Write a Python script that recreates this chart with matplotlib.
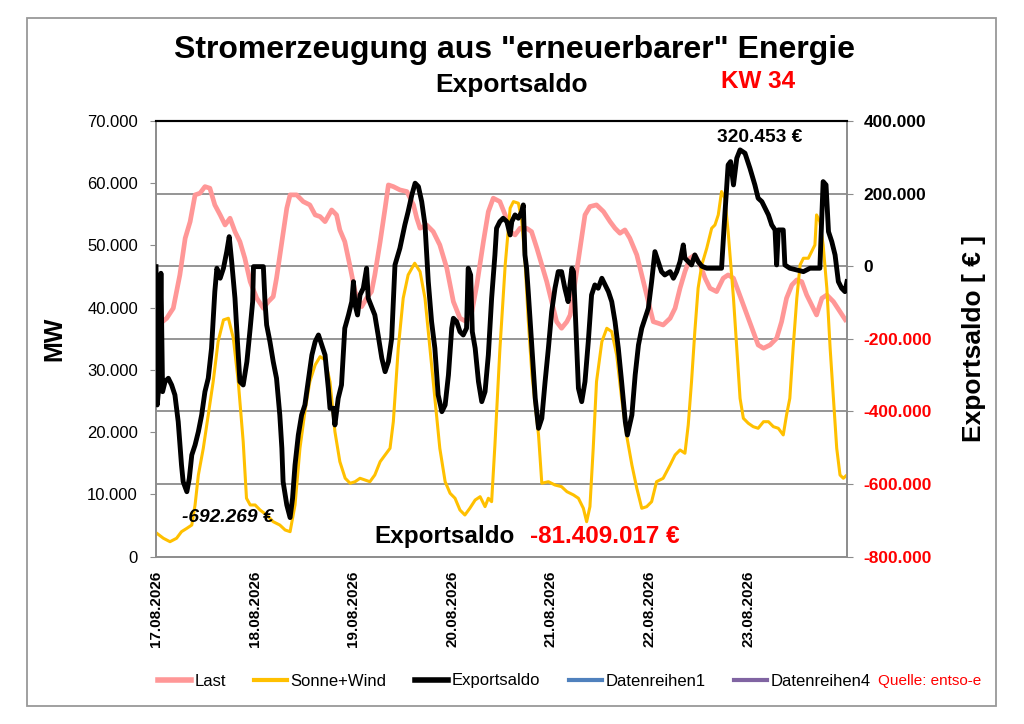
import matplotlib
matplotlib.use('Agg')
from matplotlib import pyplot as plt
from matplotlib.lines import Line2D
from matplotlib.patches import Rectangle
from matplotlib.ticker import FuncFormatter

plt.rcParams['font.family'] = ['Liberation Sans', 'DejaVu Sans']

##############################################
# Daten (KW 34, Stunden ab 17.08.2026 00:00)
##############################################
days = ['17.08.2026', '18.08.2026', '19.08.2026', '20.08.2026',
        '21.08.2026', '22.08.2026', '23.08.2026']

last_h = [0.6, 2.6, 4.2, 5.8, 7.1, 8.3, 9.5, 10.7, 11.9, 13.1,
          14.3, 15.6, 16.8, 18.0, 19.2, 20.4, 21.6, 22.9, 24.5, 26.1,
          27.3, 28.5, 29.3, 30.6, 31.8, 32.6, 34.2, 35.8, 37.4, 38.7,
          39.9, 41.1, 42.7, 43.9, 44.7, 45.9, 47.1, 48.4, 50.0, 51.2,
          52.4, 53.2, 54.5, 55.7, 56.5, 57.7, 59.3, 61.0, 62.6, 63.4,
          64.2, 65.8, 67.4, 69.0, 70.7, 72.3, 73.9, 75.5, 76.8, 78.0,
          79.6, 80.8, 82.0, 83.6, 84.9, 86.1, 87.3, 88.5, 90.1, 91.3,
          92.6, 93.8, 95.0, 96.2, 97.4, 98.6, 99.9, 100.7, 101.9, 103.1,
          104.3, 105.5, 107.1, 108.8, 110.4, 111.6, 112.8, 114.0, 115.2, 116.9,
          118.5, 119.7, 120.9, 122.1, 123.3, 125.0, 126.2, 127.4, 128.6, 129.8,
          131.0, 132.3, 133.5, 134.7, 136.3, 137.9, 139.1, 140.4, 141.6, 142.8,
          144.0, 145.2, 146.4, 147.7, 149.3, 150.9, 152.1, 153.3, 154.6, 155.8,
          157.0, 158.2, 159.4, 160.6, 161.9, 163.1, 164.7, 166.3, 167.9]
last_mw = [37230, 38310, 39920, 45270, 51170, 53830, 58130, 58400, 59460, 59200,
           56520, 54910, 53300, 54380, 52230, 50620, 47950, 44190, 41530, 39920,
           40980, 41780, 44740, 50620, 55990, 58130, 58130, 57050, 56520, 54910,
           54640, 53830, 55710, 54910, 52500, 50620, 46880, 42590, 40180, 41530,
           42590, 45270, 50620, 55990, 59730, 59460, 58930, 58660, 56520, 54380,
           52770, 53300, 52230, 50090, 46350, 40980, 38310, 37760, 39370, 43660,
           50620, 55440, 57600, 57050, 54910, 52230, 51700, 52770, 52770, 52230,
           49560, 46880, 44190, 40980, 37760, 36700, 37760, 38840, 44190, 49560,
           54910, 56250, 56520, 55440, 53830, 52770, 51970, 52500, 51170, 48480,
           44190, 40980, 37760, 37510, 37230, 38310, 39920, 43130, 45800, 47950,
           48480, 46880, 44740, 43130, 42590, 44740, 45270, 44740, 42590, 40450,
           38310, 36160, 34020, 33490, 34020, 35100, 37760, 41530, 43660, 44470,
           44190, 42050, 40450, 38840, 41530, 42050, 40980, 39370, 37760]

sw_h = [0.2, 1.8, 3.4, 5.0, 6.2, 7.5, 8.7, 9.5, 10.3, 11.5,
        12.7, 13.9, 15.1, 16.4, 17.6, 18.8, 20.0, 21.2, 22.0, 22.9,
        24.1, 25.3, 26.9, 28.5, 30.1, 31.4, 32.6, 33.8, 35.0, 36.2,
        37.4, 38.7, 39.9, 41.1, 42.3, 43.5, 44.7, 46.0, 47.2, 48.4,
        49.6, 50.8, 52.0, 53.2, 54.5, 55.7, 56.9, 57.7, 58.9, 60.1,
        61.3, 62.9, 64.2, 65.4, 66.6, 67.8, 69.0, 70.3, 71.5, 72.7,
        73.9, 75.1, 76.3, 77.6, 78.8, 80.0, 80.8, 81.6, 82.4, 83.6,
        84.9, 86.1, 86.9, 88.1, 88.9, 89.7, 90.5, 91.4, 93.0, 93.8,
        95.4, 97.0, 98.6, 99.9, 101.5, 102.7, 103.9, 104.7, 105.5, 106.3,
        107.1, 108.4, 109.6, 110.8, 112.0, 113.2, 114.4, 115.7, 116.9, 118.1,
        119.3, 120.5, 121.7, 123.3, 125.0, 126.2, 127.4, 128.6, 129.4, 130.2,
        131.0, 131.8, 132.7, 133.9, 135.1, 135.9, 136.7, 137.5, 138.3, 139.1,
        140.4, 141.2, 142.0, 142.8, 144.0, 145.2, 146.4, 147.7, 148.9, 150.1,
        151.3, 152.5, 153.3, 154.1, 154.9, 155.8, 156.6, 157.4, 158.6, 159.4,
        160.2, 160.6, 161.4, 162.2, 163.1, 163.9, 164.7, 165.5, 166.3, 167.1,
        168.0]
sw_mw = [3760, 2960, 2410, 2960, 4020, 4560, 5090, 8310, 13130, 17420,
         22770, 28120, 34550, 38040, 38310, 35100, 28120, 18480, 9390, 8310,
         8310, 7500, 6700, 5620, 5090, 4290, 4020, 8310, 17420, 23300,
         28120, 30810, 32140, 31610, 28120, 20090, 15270, 12600, 11800, 12050,
         12600, 12330, 12050, 13130, 15270, 16340, 17420, 21690, 33490, 41530,
         45270, 47150, 45800, 41530, 33490, 25450, 17420, 12050, 10190, 9390,
         7500, 6700, 7780, 9110, 9640, 8040, 9390, 8840, 17950, 33220,
         46880, 55990, 57050, 56790, 54110, 47680, 38040, 29200, 19560, 11800,
         12050, 11520, 11250, 10450, 9920, 9390, 7780, 5620, 8040, 17420,
         28120, 34550, 36700, 36160, 32410, 25450, 19560, 14740, 10990, 7780,
         8040, 8840, 12050, 12600, 14740, 16340, 17150, 16620, 21160, 28120,
         36160, 43130, 46880, 49560, 52770, 53300, 54910, 58660, 57600, 52230,
         41530, 33490, 25450, 22240, 21440, 20890, 20630, 21690, 21690, 20890,
         20630, 19560, 22770, 25450, 33490, 41530, 46880, 47950, 47950, 49010,
         50090, 54910, 53830, 50090, 43130, 33490, 25450, 17420, 13130, 12600,
         13130]

exp_h = [0.0, 0.3, 0.8, 1.2, 1.6, 2.2, 3.0, 3.8, 4.6, 5.4,
         6.2, 6.6, 7.5, 8.1, 8.7, 9.5, 10.3, 11.1, 11.9, 12.7,
         13.5, 14.3, 14.8, 15.6, 16.4, 17.2, 17.8, 18.4, 19.2, 19.8,
         20.4, 21.2, 22.1, 22.9, 23.5, 23.7, 26.1, 26.5, 26.9, 27.7,
         28.5, 29.3, 30.1, 30.6, 30.9, 31.8, 32.6, 33.2, 33.8, 34.6,
         35.4, 36.2, 37.0, 37.9, 38.7, 39.5, 40.3, 41.1, 41.9, 42.3,
         43.1, 43.5, 44.3, 45.1, 45.9, 46.8, 47.6, 48.0, 48.4, 49.0,
         49.6, 50.4, 51.2, 51.6, 52.4, 53.2, 54.0, 54.9, 55.7, 56.5,
         57.3, 58.1, 59.3, 60.5, 61.3, 62.2, 63.0, 63.8, 64.6, 65.4,
         66.2, 67.0, 67.8, 68.6, 69.5, 70.3, 71.1, 71.9, 72.3, 73.1,
         73.9, 74.7, 75.5, 75.9, 76.5, 76.9, 77.6, 78.4, 79.2, 80.0,
         80.8, 81.6, 82.4, 82.8, 83.6, 84.4, 85.3, 86.1, 86.5, 87.3,
         88.1, 88.9, 89.3, 89.7, 90.1, 90.5, 91.4, 92.2, 93.0, 93.8,
         94.6, 95.4, 96.2, 97.0, 97.8, 98.6, 99.4, 100.2, 101.1, 101.5,
         101.9, 102.3, 102.7, 103.5, 104.3, 105.1, 105.9, 106.7, 107.5, 108.4,
         109.2, 110.0, 110.8, 111.6, 112.4, 113.2, 114.1, 114.6, 115.7, 116.5,
         117.3, 118.1, 118.9, 119.7, 120.5, 121.3, 122.1, 122.9, 123.7, 125.0,
         125.8, 126.6, 127.4, 128.2, 128.6, 129.4, 130.2, 131.0, 131.8, 132.7,
         133.9, 135.5, 137.5, 138.3, 139.1, 139.7, 140.4, 141.2, 142.0, 143.2,
         144.4, 145.6, 146.4, 147.3, 148.1, 148.9, 149.7, 150.5, 150.9, 151.3,
         152.5, 152.9, 154.1, 155.8, 157.4, 159.0, 161.4, 162.2, 162.9, 163.5,
         164.3, 165.1, 165.9, 166.7, 167.5, 168.0]
exp_eur = [-1100, -382100, -317900, -19300, -345500, -317900, -308600, -327000, -354600, -428100,
           -547400, -593400, -621000, -584100, -519900, -492300, -455700, -409700, -345500, -308600,
           -225900, -70000, -5500, -33100, -5500, 40200, 81500, 12700, -88200, -207700,
           -317900, -327000, -262800, -170800, -97500, -1100, -1100, -97500, -161700, -207700,
           -262800, -308600, -409700, -501400, -593400, -657600, -692269, -639200, -547400, -464800,
           -409700, -382100, -317900, -244400, -207700, -189300, -216800, -244400, -336100, -391200,
           -391200, -437200, -363700, -327000, -170800, -134200, -97500, -42400, -106600, -134200,
           -79100, -60600, -5500, -88200, -111300, -134200, -189300, -253500, -290400, -262800,
           -198400, 3600, 49600, 113800, 150400, 196400, 228700, 219300, 178000, 113800,
           -42400, -152600, -225900, -354600, -400600, -382100, -299500, -170800, -143300, -152600,
           -180200, -189300, -170800, -5500, -24000, -180200, -225900, -317900, -373000, -345500,
           -244400, -88200, 31100, 104700, 122900, 132200, 122900, 86200, 122900, 141300,
           132200, 150400, 168900, 31100, -5500, -70000, -225900, -363700, -446300, -418800,
           -317900, -225900, -125100, -60600, -14900, -14900, -60600, -97500, -5500, -14900,
           -115700, -225900, -336100, -373000, -317900, -207700, -79100, -51500, -60600, -33100,
           -51500, -70000, -97500, -152600, -225900, -317900, -428100, -464800, -409700, -299500,
           -216800, -170800, -143300, -115700, -42400, 40200, 12700, -14900, -24000, -14900,
           -33100, -14900, 12700, 58700, 22000, 12700, 3600, 31100, 12700, 0,
           -5500, -5500, -5500, 141300, 279100, 288200, 224000, 297500, 320453, 311300,
           270000, 224000, 187300, 178000, 159800, 141300, 113800, 100000, 3600, 100000,
           100000, 3600, -5500, -10200, -14900, -5500, -5500, 233100, 224000, 95300,
           67800, 31100, -42400, -60600, -70000, -42400]

saldo_summe = '-81.409.017 €'
saldo_min = '-692.269 €'
saldo_max = '320.453 €'

def de_fmt(v, pos=None):
    return f'{v:,.0f}'.replace(',', '.')

##############################################
# Plot
##############################################
fig = plt.figure(figsize=(10.24, 7.24), dpi=100)
ax = fig.add_axes([156/1024, 1 - 556.7/724, 691/1024, 435.7/724])
ax2 = ax.twinx()

ax.set_xlim(0, 168)
ax.set_ylim(0, 70000)
ax2.set_ylim(-800000, 400000)

# Gitterlinien der rechten Achse, hinter den Kurven
r_ticks = list(range(-800000, 400001, 200000))
for r in r_ticks[1:-1]:
    ax.axhline((r + 800000) / 1200000 * 70000, color='#8c8c8c', lw=1.3, zorder=0)

ax.plot(last_h, last_mw, color='#FF9797', lw=3.4, zorder=2, solid_capstyle='butt')
ax.plot(sw_h, sw_mw, color='#FFC000', lw=2.2, zorder=3)
ax2.plot(exp_h, exp_eur, color='black', lw=3.5, zorder=4)

ax.set_yticks(range(0, 70001, 10000))
ax.yaxis.set_major_formatter(FuncFormatter(de_fmt))
ax.tick_params(axis='y', labelsize=12, length=4, color='#8c8c8c', pad=9)

ax.set_xticks([24 * i for i in range(len(days))])
ax.set_xticklabels(days, rotation=90, fontsize=11, fontweight='bold', va='top')
ax.tick_params(axis='x', length=0, pad=10)

ax2.set_yticks(r_ticks)
ax2.yaxis.set_major_formatter(FuncFormatter(de_fmt))
ax2.tick_params(axis='y', labelsize=12.5, length=4, color='#8c8c8c', pad=8)
for t, r in zip(ax2.get_yticklabels(), r_ticks):
    t.set_fontweight('bold')
    t.set_color('red' if r < 0 else 'black')

for a in (ax, ax2):
    for s in ('left', 'right', 'bottom'):
        a.spines[s].set_color('#8c8c8c')
        a.spines[s].set_linewidth(1.2)
    a.spines['top'].set_color('black')
    a.spines['top'].set_linewidth(1.5)

ax.set_ylabel('MW', fontsize=18, fontweight='bold')
ax.yaxis.set_label_coords(-0.130, 0.5)
ax2.set_ylabel('Exportsaldo [ € ]', fontsize=19, fontweight='bold')
ax2.yaxis.set_label_coords(1.166, 0.5)

# Titel
fig.text(514/1024, 1 - 50/724, 'Stromerzeugung aus "erneuerbarer" Energie',
         ha='center', va='center', fontsize=23, fontweight='bold')
fig.text(512/1024, 1 - 85/724, 'Exportsaldo', ha='center', va='center',
         fontsize=19, fontweight='bold')
fig.text(758/1024, 1 - 81/724, 'KW 34', ha='center', va='center',
         fontsize=17.5, fontweight='bold', color='red')

# Beschriftungen im Diagramm
ax.text(0.104, 0.089, saldo_min, transform=ax.transAxes, ha='center', va='center',
        fontsize=13.8, fontweight='bold', style='italic')
ax.text(0.874, 0.961, saldo_max, transform=ax.transAxes, ha='center', va='center',
        fontsize=13.8, fontweight='bold')
ax.text(0.418, 0.047, 'Exportsaldo', transform=ax.transAxes, ha='center', va='center',
        fontsize=17.5, fontweight='bold')
ax.text(0.650, 0.047, saldo_summe, transform=ax.transAxes, ha='center', va='center',
        fontsize=17.5, fontweight='bold', color='red')

# Legende
handles = [Line2D([], [], color='#FF9797', lw=4),
           Line2D([], [], color='#FFC000', lw=3),
           Line2D([], [], color='black', lw=4),
           Line2D([], [], color='#4F81BD', lw=3),
           Line2D([], [], color='#8064A2', lw=3)]
labels = ['Last', 'Sonne+Wind', 'Exportsaldo', 'Datenreihen1', 'Datenreihen4']
fig.legend(handles, labels, loc='center', bbox_to_anchor=(514/1024, 1 - 681/724),
           ncol=5, frameon=False, fontsize=12, handlelength=2.0,
           handletextpad=0.2, columnspacing=1.7)
fig.text(878/1024, 1 - 681/724, 'Quelle: entso-e', ha='left', va='center',
         fontsize=11, color='red')

# Rahmen
fig.patches.append(Rectangle((27/1024, 1 - 706/724), 969/1024, 688/724,
                             transform=fig.transFigure, fill=False,
                             ec='#999999', lw=1.3))

fig.savefig('out.png', dpi=100)
